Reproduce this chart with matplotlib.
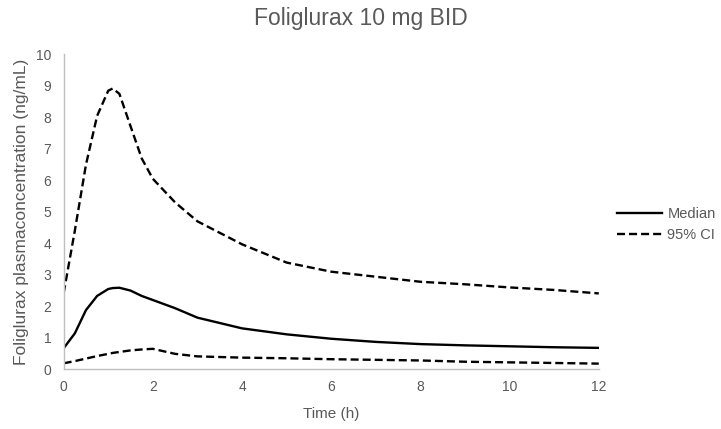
import matplotlib
matplotlib.use("Agg")
import matplotlib.pyplot as plt

plt.rcParams['font.family'] = ['Liberation Sans', 'DejaVu Sans']

time_h = [0, 0.25, 0.5, 0.75, 1, 1.1, 1.25, 1.5, 1.75, 2, 2.5, 3, 4, 5, 6, 7, 8, 9, 10, 11, 12]
median = [0.67, 1.14, 1.88, 2.33, 2.55, 2.58, 2.59, 2.5, 2.33, 2.2, 1.94, 1.64, 1.3, 1.11, 0.97, 0.87, 0.8, 0.76, 0.73, 0.7, 0.68]
ci_upper = [2.42, 4.4, 6.5, 8.05, 8.85, 8.92, 8.75, 7.72, 6.7, 6.05, 5.3, 4.7, 3.97, 3.39, 3.1, 2.94, 2.78, 2.7, 2.6, 2.52, 2.41]
ci_lower = [0.19, 0.26, 0.34, 0.42, 0.49, 0.52, 0.55, 0.6, 0.63, 0.65, 0.49, 0.41, 0.37, 0.35, 0.32, 0.3, 0.28, 0.24, 0.22, 0.2, 0.18]

title = "Foliglurax 10 mg BID"
xlabel = "Time (h)"
ylabel = "Foliglurax plasmaconcentration (ng/mL)"
xticks = [0, 2, 4, 6, 8, 10, 12]
yticks = list(range(0, 11))

gray = '#595959'
axcol = '#BFBFBF'

fig = plt.figure(figsize=(7.21, 4.29), dpi=100)
ax = fig.add_axes([0.0883, 0.1392, 0.7422, 0.7338])

dash = (0, (3.4, 1.7))
ax.plot(time_h, median, color='black', lw=1.7, label='Median', solid_joinstyle='round')
ax.plot(time_h, ci_upper, color='black', lw=1.7, ls=dash, label='95% CI', dash_joinstyle='round')
ax.plot(time_h, ci_lower, color='black', lw=1.7, ls=dash, dash_joinstyle='round')

ax.set_xlim(0, 12)
ax.set_ylim(0, 10)
ax.set_xticks(xticks)
ax.set_yticks(yticks)
ax.tick_params(axis='both', length=0, labelsize=10, labelcolor=gray)
ax.tick_params(axis='x', pad=8)
ax.tick_params(axis='y', pad=9)
for s in ['top', 'right']:
    ax.spines[s].set_visible(False)
for s in ['left', 'bottom']:
    ax.spines[s].set_color(axcol)
    ax.spines[s].set_linewidth(1.0)

ax.set_xlabel(xlabel, fontsize=11, color=gray, labelpad=9)
ax.set_ylabel(ylabel, fontsize=12.5, color=gray, labelpad=5)
fig.text(0.5, 1 - 18 / 429, title, fontsize=16.5, color=gray, ha='center', va='center')

leg = ax.legend(loc='center left', bbox_to_anchor=(617 / 721, 1 - 224.5 / 429),
                bbox_transform=fig.transFigure, frameon=False, borderaxespad=0, borderpad=0,
                fontsize=10.5, handlelength=3.1, labelcolor=gray, handletextpad=0.35,
                labelspacing=0.45)

fig.savefig('out.png', dpi=100)
